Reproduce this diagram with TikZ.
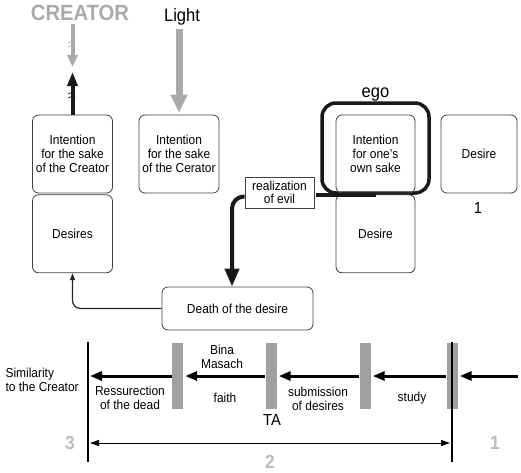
\documentclass[tikz,border=0pt]{standalone}
\usepackage{fontspec}
\setmainfont{Liberation Sans}[FakeStretch=0.92]
\usetikzlibrary{positioning,arrows.meta}
\definecolor{softgray}{RGB}{170,170,170}
\definecolor{bargray}{RGB}{160,160,160}
\definecolor{numgray}{RGB}{188,188,188}
\tikzstyle{state} = [rectangle,
                    rounded corners=6pt,
                    minimum width=80pt,
                    minimum height=78pt,
                    inner sep=0pt,
                    align = center,
                    draw=black!75,
                    line width=0.8pt]
\tikzstyle{tag} = [rectangle,
                  align = center,
                  draw=black!75,
                  line width=0.8pt,
                  minimum width=69pt,
                  minimum height=31pt,
                  inner sep=0pt,
                  font=\fontsize{13}{12.5}\selectfont]
\tikzstyle{bar} = [rectangle,
                  fill=bargray,
                  minimum width=11pt,
                  minimum height=66pt,
                  inner sep=0pt]
\tikzstyle{big} = [font=\fontsize{19}{19}\selectfont\bfseries,
                  text=numgray]
\tikzstyle{beam} = [draw=softgray, line width=7pt, -{Triangle[length=18pt,width=16pt]}]
\tikzstyle{evil} = [draw=black!90, line width=4pt, rounded corners=12pt]
\tikzstyle{control} = [x=1pt,
                      y=-1pt,
                      node distance=1pt,
                      font=\fontsize{13}{14.3}\selectfont,
                      >={Triangle[length=12pt,width=9pt]},
                      shorten >=2pt]

\begin{document}
\begin{tikzpicture}[control]
    \useasboundingbox (0,0) rectangle (521,472);
    \node (0) at (80,13) [font=\fontsize{22}{22}\selectfont\bfseries, text=softgray] {CREATOR};
    \node (1) at (182,17) [font=\fontsize{18}{18}\selectfont] {Light};
    \node (2) at (72.5,154) [state] {Intention\\for the sake\\of the Creator};
    \node (3) [below =of 2] [state] {Desires};
    \node (4) at (179,154) [state] {Intention\\for the sake\\of the Cerator};
    \node (5) at (375.5,148) [rectangle, rounded corners=14pt, minimum width=107pt, minimum height=90pt, draw=black!90, line width=3.5pt] {};
    \node (6) at (375.5,154) [state, minimum width=79pt] {Intention\\for one's\\own sake};
    \node (7) [below =of 6] [state, minimum width=79pt] {Desire};
    \node (8) at (479,154) [state, minimum width=76pt] {Desire};
    \node (9) at (478,208) [font=\fontsize{16}{16}\selectfont] {1};
    \node (10) [above =-4pt of 5] [font=\fontsize{18}{18}\selectfont] {ego};
    \node (11) at (279.5,192.5) [tag] {realization\\of evil};
    \node (12) at (237.5,308.5) [state, minimum width=151pt, minimum height=43pt] {Death of the desire};
    \node (13) at (2,380) [anchor=west, align=left] {Similarity\\to the Creator};
    \node (14) at (177.5,376) [bar] {};
    \node (15) at (271,376) [bar] {};
    \node (16) at (365,376) [bar] {};
    \node (17) at (452,376) [bar] {};
    \node (18) at (222,357) [align=center] {Bina\\Masach};
    \node (19) at (225,398) {faith};
    \node (20) at (130,398) [align=center] {Ressurection\\of the dead};
    \node (21) at (318,399) [align=center] {submission\\of desires};
    \node (22) at (412,398) {study};
    \node (23) at (272,420) [font=\fontsize{16}{16}\selectfont] {TA};
    \node (24) at (70,443) [big] {3};
    \node (25) at (495,443) [big] {1};
    \node (26) at (270,462) [big] {2};
    \coordinate (a) at (88,342);
    \coordinate (b) at (88,464);
    \coordinate (c) at (452,342);
    \coordinate (d) at (452,464);
    \coordinate (e) at (518,376);
    \coordinate (g) at (72.5,67);
    \coordinate (h) at (72.5,72);

    % top arrows
    \draw[draw=softgray, line width=4pt, -{Triangle[length=12pt,width=10pt]}, shorten >=0pt] (0.south -| g) -- (g);
    \draw[draw=black!90, line width=4pt, -{Triangle[length=14pt,width=10pt]}, shorten >=0pt] (2.north) -- (h);
    \foreach \y in {41,45} \draw[softgray, line width=0.7pt] (68,\y+2) -- (72.5,\y) -- (77,\y+2);
    \foreach \y in {92,96} \draw[black!90, line width=0.7pt] (68,\y+2) -- (72.5,\y) -- (77,\y+2);
    \draw[beam] (1.south -| 4.north) -- (4.north);

    % realization of evil
    \draw[evil] (5.south) -- (5.south -| 11.east);
    \draw[evil, -{Triangle[length=18pt,width=14pt]}, shorten >=0pt] ([yshift=-4pt]11.west) -| ([xshift=-5.5pt]12.north);
    \draw[draw=black!85, line width=1.2pt, rounded corners=8pt, -{Triangle[length=7pt,width=5pt]}, shorten >=0pt] (12.west) -| (3.south);

    % scale
    \draw[line width=2pt] (a) -- (b);
    \draw[line width=2pt] (c) -- (d);
    \path[->, line width=3pt]
      (e) edge (17.east)
      (17.west) edge (16.east)
      (16.west) edge (15.east)
      (15.west) edge (14.east)
      (14.west) edge (a |- 14.west);
    \draw[<->, line width=1pt, >={Triangle[length=9pt,width=6pt]}, shorten <=2pt] (b |- 24) -- (d |- 25);

  \end{tikzpicture}
\end{document}
